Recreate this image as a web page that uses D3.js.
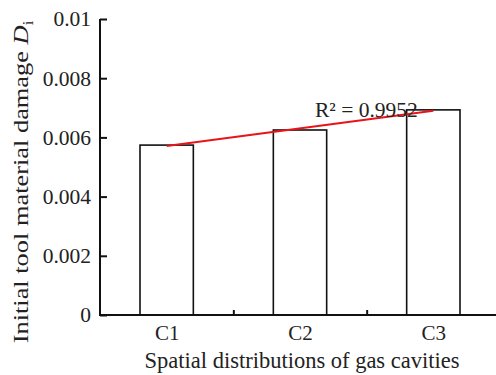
<!DOCTYPE html>
<html>
<head>
<meta charset="utf-8">
<script src="https://cdn.jsdelivr.net/npm/d3@7"></script>
<style>
  body { margin: 0; background: #fff; }
  svg text { font-family: "Liberation Serif", "Times New Roman", serif; fill: #222; }
</style>
</head>
<body>
<div id="chart"></div>
<script>
var categories = ["C1", "C2", "C3"];
var damage = [0.00574, 0.00625, 0.00693];
var yTicks = [0, 0.002, 0.004, 0.006, 0.008, 0.01];
var yTickLabels = ["0", "0.002", "0.004", "0.006", "0.008", "0.01"];
var rSquared = "0.9952";

var width = 496;
var height = 375;
var margin = { left: 100, top: 19, bottom: 60 };

var svg = d3.select("#chart").append("svg")
    .attr("width", width)
    .attr("height", height);

var xScale = d3.scaleLinear()
    .domain([0.5, categories.length + 0.5])
    .range([margin.left, 500]);
var yScale = d3.scaleLinear()
    .domain([0, 0.01])
    .range([315, margin.top]);

// bars
var barHalf = 0.2;
svg.selectAll("rect.bar")
    .data(damage)
    .enter().append("rect")
    .attr("class", "bar")
    .attr("x", function (d, i) { return xScale(i + 1 - barHalf); })
    .attr("y", function (d) { return yScale(d); })
    .attr("width", function () { return xScale(1 + barHalf) - xScale(1 - barHalf); })
    .attr("height", function (d) { return yScale(0) - yScale(d); })
    .attr("fill", "#fff")
    .attr("stroke", "#111")
    .attr("stroke-width", 1.6);

// linear trend line (least squares over category index)
var xs = damage.map(function (d, i) { return i + 1; });
var mx = d3.mean(xs), my = d3.mean(damage);
var slope = d3.sum(xs, function (x, i) { return (x - mx) * (damage[i] - my); }) /
    d3.sum(xs, function (x) { return (x - mx) * (x - mx); });
var icpt = my - slope * mx;
var trend = [1, categories.length].map(function (x) { return [x, icpt + slope * x]; });

svg.append("path")
    .attr("d", d3.line()
        .x(function (d) { return xScale(d[0]); })
        .y(function (d) { return yScale(d[1]); })(trend))
    .attr("fill", "none")
    .attr("stroke", "#e8141a")
    .attr("stroke-width", 2);

svg.append("text")
    .attr("x", 315)
    .attr("y", 117)
    .style("font-size", "21.5px")
    .text("R\u00b2 = " + rSquared);

// y axis
var yAxis = d3.axisLeft(yScale)
    .tickValues(yTicks)
    .tickFormat(function (d, i) { return yTickLabels[i]; })
    .tickSize(-7)
    .tickPadding(9);

var gy = svg.append("g")
    .attr("transform", "translate(" + margin.left + ",0)")
    .call(yAxis);
gy.select(".domain").remove();
gy.append("line")
    .attr("x1", 0).attr("x2", 0)
    .attr("y1", yScale(0.01)).attr("y2", yScale(0) + 1)
    .attr("stroke", "#111").attr("stroke-width", 2);
gy.selectAll(".tick line").attr("stroke", "#111").attr("stroke-width", 2);
gy.selectAll(".tick text")
    .style("font-size", "21.5px")
    .attr("fill", "#222");

// x axis
var gx = svg.append("g")
    .attr("transform", "translate(0," + yScale(0) + ")")
    .call(d3.axisBottom(xScale)
        .tickValues([1.5, 2.5])
        .tickFormat("")
        .tickSize(-5));
gx.select(".domain").remove();
gx.append("line")
    .attr("x1", margin.left - 1).attr("x2", width)
    .attr("y1", 0).attr("y2", 0)
    .attr("stroke", "#111").attr("stroke-width", 2);
gx.selectAll(".tick line").attr("stroke", "#111").attr("stroke-width", 2);

var gxl = svg.append("g")
    .attr("transform", "translate(0," + yScale(0) + ")")
    .call(d3.axisBottom(xScale)
        .tickValues(xs)
        .tickFormat(function (d) { return categories[d - 1]; })
        .tickSize(0)
        .tickPadding(10));
gxl.select(".domain").remove();
gxl.selectAll(".tick text")
    .style("font-size", "21px")
    .attr("fill", "#222");

// axis titles
svg.append("text")
    .attr("x", 302)
    .attr("y", 368)
    .attr("text-anchor", "middle")
    .style("font-size", "22.5px")
    .text("Spatial distributions of gas cavities");

var yt = svg.append("text")
    .attr("transform", "translate(28,182) rotate(-90) scale(1.2,1)")
    .attr("text-anchor", "middle")
    .style("font-size", "22px");
yt.append("tspan").text("Initial tool material damage ");
yt.append("tspan").style("font-style", "italic").text("D");
yt.append("tspan").attr("dy", 5).style("font-size", "14px").text("i");
</script>
</body>
</html>
